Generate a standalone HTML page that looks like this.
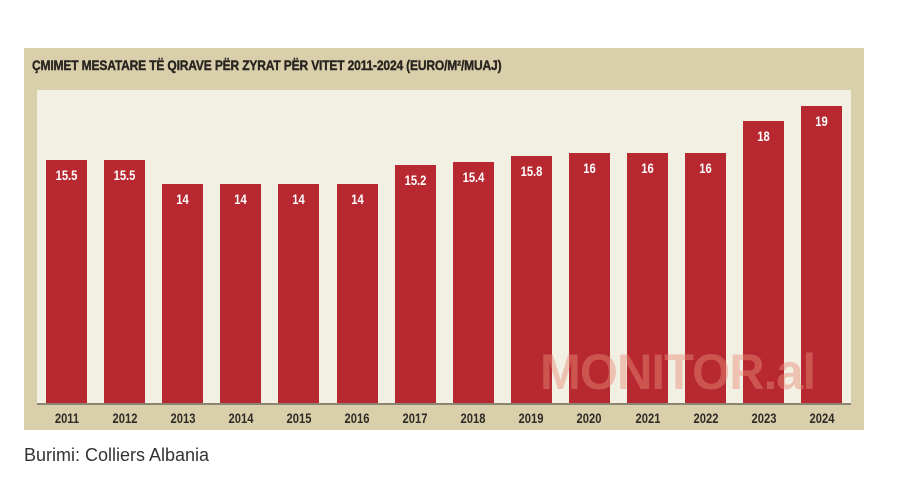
<!DOCTYPE html>
<html><head><meta charset="utf-8"><style>
body{margin:0;width:900px;height:490px;background:#fff;position:relative;overflow:hidden;font-family:"Liberation Sans",sans-serif}
.box{position:absolute;left:24px;top:48px;width:840px;height:382px;background:#d9d0ab}
.panel{position:absolute;left:37px;top:90px;width:814px;height:314px;background:#f2efe3}
.base{position:absolute;left:37px;top:403px;width:814px;height:2px;background:#8a8570}
.title{position:absolute;left:32px;top:57px;font-weight:bold;font-size:14px;color:#2a2420;white-space:nowrap;transform:scaleX(0.86);transform-origin:left top;letter-spacing:-0.2px;-webkit-text-stroke:0.4px #2a2420}
.bar{position:absolute;width:41px;background:#b72831}
.v{position:absolute;width:41px;text-align:center;color:#fff;font-weight:bold;font-size:14px;transform:scaleX(0.8)}
.y{position:absolute;top:410px;width:60px;text-align:center;color:#2f2a25;font-weight:bold;font-size:14px;transform:scaleX(0.8)}
.wm{position:absolute;left:540px;top:343px;font-weight:bold;font-size:50px;color:rgba(230,140,120,0.45);transform:scaleX(0.98);transform-origin:left top;letter-spacing:-1px}
.cap{position:absolute;left:24px;top:445px;font-size:18px;color:#333}
</style></head><body>
<div class="box"></div>
<div class="panel"></div>
<div class="title">ÇMIMET MESATARE TË QIRAVE PËR ZYRAT PËR VITET 2011-2024 (EURO/M²/MUAJ)</div>
<div id="c"></div>
<div class="wm">MONITOR.al</div>
<div class="base"></div>
<div class="cap">Burimi: Colliers Albania</div>
<script>
var d=[15.5,15.5,14,14,14,14,15.2,15.4,15.8,16,16,16,18,19],h='';
for(var i=0;i<14;i++){var l=46+i*58.1,t=403-d[i]*15.65;
h+='<div class="bar" style="left:'+l+'px;top:'+t+'px;height:'+(403-t)+'px"></div>';
h+='<div class="v" style="left:'+l+'px;top:'+(t+7)+'px">'+d[i]+'</div>';
h+='<div class="y" style="left:'+(l-9.5)+'px">'+(2011+i)+'</div>';}
document.getElementById('c').innerHTML=h;
</script>
</body></html>
